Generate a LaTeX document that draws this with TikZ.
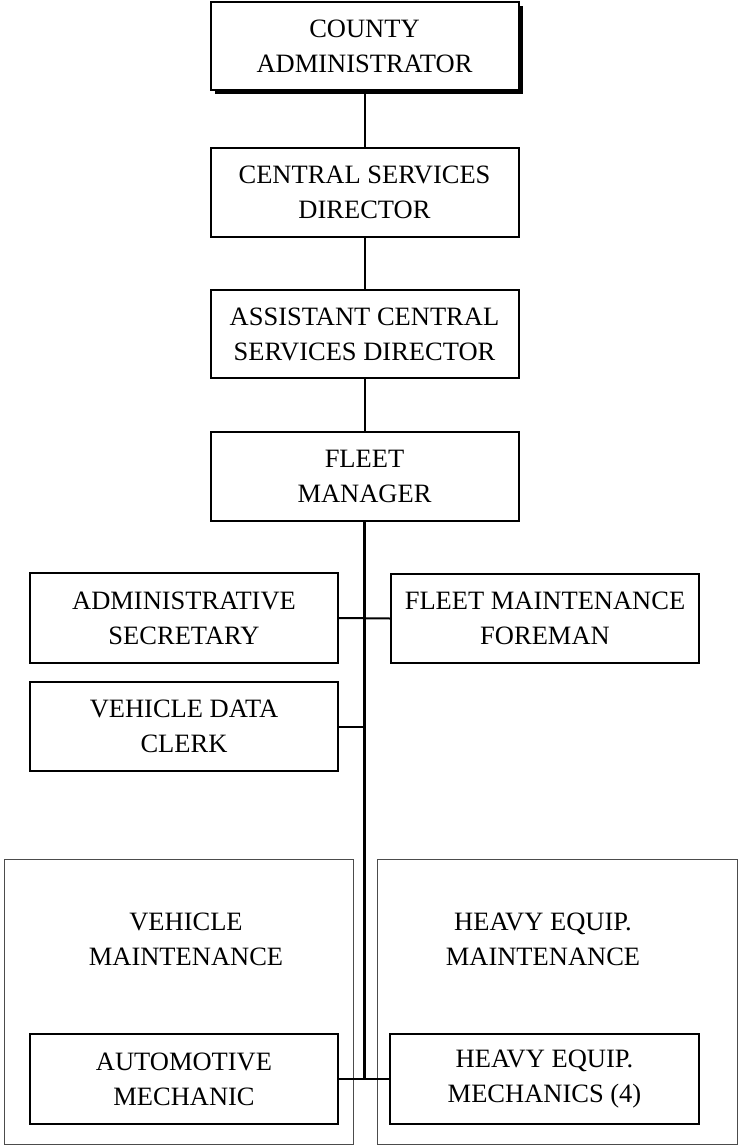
\documentclass[tikz,border=0pt]{standalone}
\usepackage{fontspec}
\setmainfont{Liberation Serif}
\usetikzlibrary{shadows}
\begin{document}
\begin{tikzpicture}[x=1pt,y=-1pt,
  box/.style={draw=black, line width=2pt, fill=white, inner sep=0pt,
    minimum width=308pt, minimum height=89pt, align=center,
    font=\fontsize{26.5pt}{35pt}\selectfont},
  topbox/.style={box, drop shadow={shadow xshift=4pt, shadow yshift=-4pt,
    fill=black, opacity=1}},
  group/.style={draw=black!70, line width=0.9pt, inner sep=0pt},
  title/.style={align=center, inner sep=0pt,
    font=\fontsize{26.5pt}{35pt}\selectfont},
  conn/.style={line width=2pt},
  trunk/.style={line width=2.8pt}]
\useasboundingbox (0,0) rectangle (741,1145);

% department containers
\node[group, minimum width=349pt, minimum height=285pt] (vmgroup) at (178.5,1001.5) {};
\node[group, minimum width=360pt, minimum height=285pt] (hmgroup) at (557,1001.5) {};
\node[title] (vmtitle) at (186,939) {VEHICLE\\MAINTENANCE};
\node[title] (hmtitle) at (543,939) {HEAVY EQUIP.\\MAINTENANCE};

% chain of command
\node[topbox, minimum height=88pt] (ca) at (364.5,46) {COUNTY\\ADMINISTRATOR};
\node[box] (csd) at (364.5,192) {CENTRAL SERVICES\\DIRECTOR};
\node[box, minimum height=88pt] (acsd) at (364.5,334) {ASSISTANT CENTRAL\\SERVICES DIRECTOR};
\node[box] (fm) at (364.5,476.5) {FLEET\\MANAGER};

% staff reporting to the fleet manager
\node[box, minimum height=90pt] (admin) at (184,618) {ADMINISTRATIVE\\SECRETARY};
\node[box] (foreman) at (545,618.5) {FLEET MAINTENANCE\\FOREMAN};
\node[box] (clerk) at (184,726.5) {VEHICLE DATA\\CLERK};
\node[box, minimum height=90pt] (auto) at (184,1079) {AUTOMOTIVE\\MECHANIC};
\node[box, minimum width=309pt, minimum height=90pt] (heavy) at (544.5,1079) {HEAVY EQUIP.\\MECHANICS (4)};

% connectors
\draw[conn] (ca) -- (csd);
\draw[conn] (csd) -- (acsd);
\draw[conn] (acsd) -- (fm);
\coordinate (trunkend) at (fm.south |- auto.east);
\draw[trunk] (fm.south) -- (trunkend);
\draw[conn] (admin.east) -- (foreman.west);
\draw[conn] (clerk.east) -- (clerk.east -| fm.south);
\draw[conn] (auto.east) -- (heavy.west);
\end{tikzpicture}
\end{document}
